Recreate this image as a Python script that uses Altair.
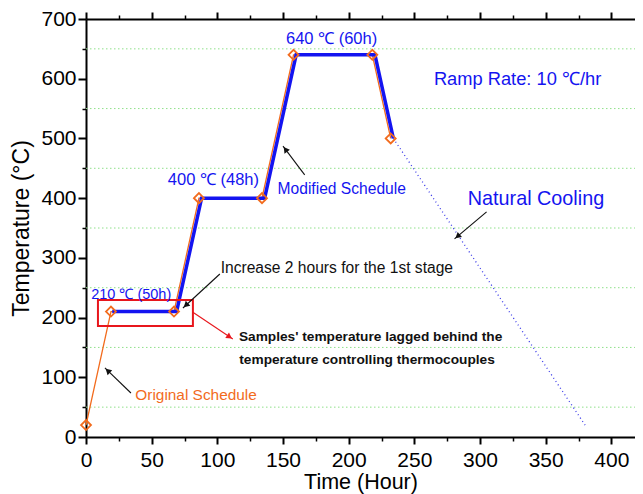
import math
import altair as alt
import pandas as pd

# ---------------- data ----------------
orig_t = [0, 19, 67, 86, 134, 158, 218, 232]
orig_T = [20, 210, 210, 400, 400, 640, 640, 500]

mod_t = [20, 69, 88, 136, 160, 220, 234]
mod_T = [210, 210, 400, 400, 640, 640, 500]

cool_t = [234, 380]
cool_T = [500, 20]

grid_T = [50, 150, 250, 350, 450, 550, 650]

x_major = [0, 50, 100, 150, 200, 250, 300, 350, 400]
x_minor = [25, 75, 125, 175, 225, 275, 325, 375]
y_major = [0, 100, 200, 300, 400, 500, 600, 700]
y_minor = [50, 150, 250, 350, 450, 550, 650]

# annotation texts (data coords)
ann_text = ["640 ℃ (60h)", "400 ℃ (48h)", "210 ℃ (50h)", "Ramp Rate: 10 ℃/hr",
            "Modified Schedule", "Natural Cooling", "Increase 2 hours for the 1st stage",
            "Samples' temperature lagged behind the", "temperature controlling thermocouples",
            "Original Schedule"]
ann_x = [187, 97, 34.4, 328.6, 194.7, 342.6, 191, 216.7, 214, 83.8]
ann_y = [667, 430, 238, 598, 415, 398.7, 283, 167.5, 129, 70.6]
ann_color = ["#1414F0", "#1414F0", "#1414F0", "#1414F0", "#1414F0", "#1414F0",
             "#111111", "#111111", "#111111", "#F26B1D"]
ann_size = [16.5, 16.5, 14.5, 18.3, 15.6, 19.8, 15.6, 13.7, 13.7, 15.4]
ann_weight = ["normal"] * 7 + ["bold", "bold", "normal"]

# arrows: tail -> head (data coords)
arr_tx = [166.5, 305, 101.9, 34.2, 81.4]
arr_ty = [439, 377, 273, 73.7, 209]
arr_hx = [150, 280.6, 73.8, 14.4, 111.8]
arr_hy = [487, 331.7, 216, 115.6, 164]
arr_color = ["#111111", "#111111", "#111111", "#111111", "#E8161C"]

# red box
box_x, box_x2, box_y, box_y2 = [9.1], [81.4], [229.5], [186]

# ---------------- layout ----------------
W, H = 549, 418
XMAX, YMAX = 418, 700
sx, sy = W / XMAX, H / YMAX
FONT = "Liberation Sans"
BLUE = "#1414F0"
ORANGE = "#F26B1D"

xs = alt.Scale(domain=[0, XMAX], nice=False, zero=False)
ys = alt.Scale(domain=[0, YMAX], nice=False, zero=False)

def mkaxis(**kw):
    base = dict(domainColor="black", domainWidth=2, tickColor="black", grid=False,
                labelFont=FONT, titleFont=FONT, labelColor="black", titleColor="black")
    base.update(kw)
    return alt.Axis(**base)

ax_bottom = mkaxis(orient="bottom", values=x_major, tickSize=7, tickWidth=2, labelFontSize=21,
                   labelPadding=5, title="Time (Hour)", titleFontSize=21.5,
                   titleFontWeight="normal", titlePadding=1, labelFlush=False)
ax_bottom_minor = mkaxis(orient="bottom", values=x_minor, tickSize=4, tickWidth=1.5, labels=False,
                         title=None, domain=False)
ax_top = mkaxis(orient="top", values=x_major, tickSize=7, tickWidth=2, labels=False, title=None)
ax_top_minor = mkaxis(orient="top", values=x_minor, tickSize=4, tickWidth=1.5, labels=False,
                      title=None, domain=False)
ay_left = mkaxis(orient="left", values=y_major, tickSize=8, tickWidth=2, labelFontSize=21,
                 labelPadding=2, title="Temperature (°C)", titleFontSize=23,
                 titleFontWeight="normal", titlePadding=7, labelFlush=False)
ay_left_minor = mkaxis(orient="left", values=y_minor, tickSize=4, tickWidth=1.5, labels=False,
                       title=None, domain=False)

grid_df = pd.DataFrame({"T": grid_T})
orig_df = pd.DataFrame({"t": orig_t, "T": orig_T})
mod_df = pd.DataFrame({"t": mod_t, "T": mod_T})
cool_df = pd.DataFrame({"t": cool_t, "T": cool_T})
ann_df = pd.DataFrame({"text": ann_text, "x": ann_x, "y": ann_y})

# arrowhead positions / angles
heads = []
for tx, ty, hx, hy, c in zip(arr_tx, arr_ty, arr_hx, arr_hy, arr_color):
    dxp = (hx - tx) * sx
    dyp = -(hy - ty) * sy
    L = math.hypot(dxp, dyp)
    ang = math.degrees(math.atan2(dxp, -dyp)) % 360
    back = 4.0
    cx = hx - (dxp / L) * back / sx
    cy = hy + (dyp / L) * back / sy
    heads.append({"x": cx, "y": cy, "a": ang, "c": c})
head_df = pd.DataFrame(heads)
arr_df = pd.DataFrame({"x": arr_tx, "y": arr_ty, "x2": arr_hx, "y2": arr_hy, "c": arr_color})
box_df = pd.DataFrame({"x": box_x, "x2": box_x2, "y": box_y, "y2": box_y2})

grid = alt.Chart(grid_df).mark_rule(color="#8FE08A", strokeDash=[1.5, 2.5], strokeWidth=1).encode(
    y=alt.Y("T:Q", scale=ys, axis=ay_left),
    x=alt.value(0), x2=alt.value(W),
)

axes_x = alt.Chart(grid_df).mark_point(opacity=0).encode(
    x=alt.X("T:Q", scale=xs, axis=ax_bottom), y=alt.Y("T:Q", scale=ys, axis=ay_left_minor))

orig_line = alt.Chart(orig_df).mark_line(color=ORANGE, strokeWidth=1.3).encode(
    x=alt.X("t:Q", scale=xs, axis=ax_bottom_minor), y=alt.Y("T:Q", scale=ys, axis=None))
orig_pts = alt.Chart(orig_df).mark_point(shape="diamond", filled=False, color=ORANGE,
                                         size=100, strokeWidth=1.8, opacity=1).encode(
    x=alt.X("t:Q", scale=xs, axis=ax_top), y=alt.Y("T:Q", scale=ys, axis=None))
mod_line = alt.Chart(mod_df).mark_line(color=BLUE, strokeWidth=3.5).encode(
    x=alt.X("t:Q", scale=xs, axis=ax_top_minor), y=alt.Y("T:Q", scale=ys, axis=None))
cool_line = alt.Chart(cool_df).mark_line(color="#3A3AE8", strokeWidth=1.3, strokeDash=[1, 3]).encode(
    x=alt.X("t:Q", scale=xs, axis=None), y=alt.Y("T:Q", scale=ys, axis=None))

box = alt.Chart(box_df).mark_rect(fillOpacity=0, stroke="#E8161C", strokeWidth=2).encode(
    x=alt.X("x:Q", scale=xs, axis=None), x2="x2:Q",
    y=alt.Y("y:Q", scale=ys, axis=None), y2="y2:Q")

arrows = alt.Chart(arr_df).mark_rule(strokeWidth=1.1).encode(
    x=alt.X("x:Q", scale=xs, axis=None), x2="x2:Q",
    y=alt.Y("y:Q", scale=ys, axis=None), y2="y2:Q",
    color=alt.Color("c:N", scale=None))
heads_l = alt.Chart(head_df).mark_point(shape="triangle-up", filled=True, size=45, opacity=1).encode(
    x=alt.X("x:Q", scale=xs, axis=None), y=alt.Y("y:Q", scale=ys, axis=None),
    angle=alt.Angle("a:Q", scale=None), color=alt.Color("c:N", scale=None))

texts = []
for i in range(len(ann_text)):
    texts.append(alt.Chart(ann_df.iloc[[i]]).mark_text(
        font=FONT, fontSize=ann_size[i], fontWeight=ann_weight[i], color=ann_color[i],
        align="center", baseline="middle").encode(
        x=alt.X("x:Q", scale=xs, axis=None), y=alt.Y("y:Q", scale=ys, axis=None),
        text="text:N"))

chart = alt.layer(grid, axes_x, orig_line, cool_line, mod_line, orig_pts, box, arrows, heads_l,
                  *texts).resolve_axis(x="independent", y="independent").properties(
    width=W, height=H,
    autosize=alt.AutoSizeParams(type="none"),
    padding={"left": 78, "top": 11, "right": 0, "bottom": 57},
).configure_view(stroke=None).configure(background="white")

chart.save("out.html", embed_options={"renderer": "svg", "actions": False})
